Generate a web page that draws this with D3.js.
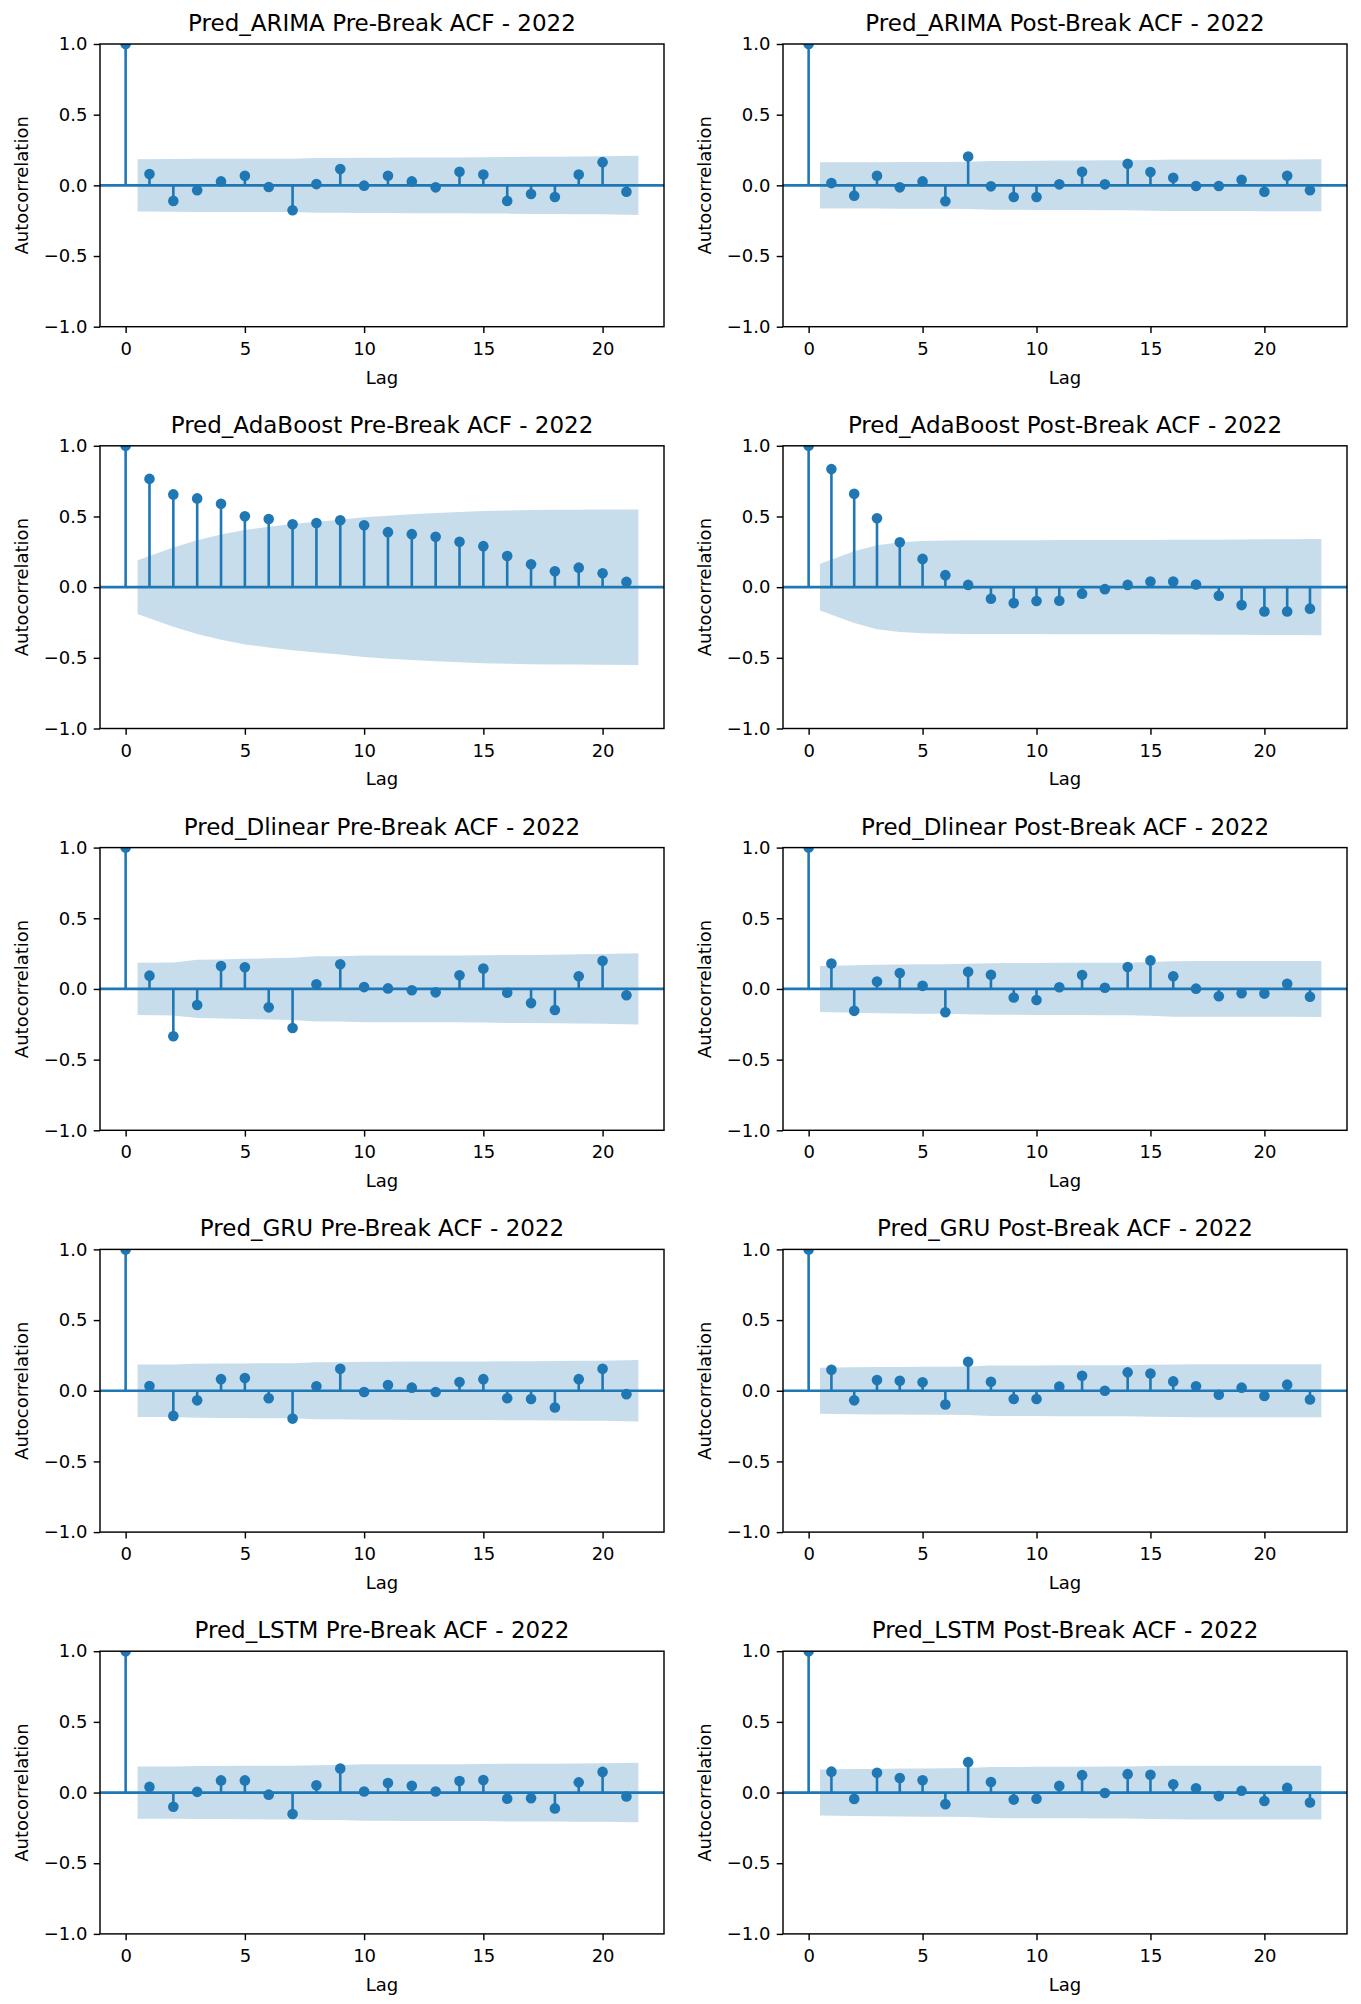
<!DOCTYPE html>
<html>
<head>
<meta charset="utf-8">
<script src="https://cdn.jsdelivr.net/npm/d3@7"></script>
<style>
  body { margin: 0; background: #fff; }
  text { font-family: "DejaVu Sans", sans-serif; fill: #000; }
</style>
</head>
<body>
<div id="chart"></div>
<script>
// ACF values (lag 0 .. N) and the upper confidence bound per lag (1 .. N)
const models = ["ARIMA", "AdaBoost", "Dlinear", "GRU", "LSTM"];
const year = "2022";
const xTickValues = [0, 5, 10, 15, 20];
const yTickValues = [-1, -0.5, 0, 0.5, 1];

const arimaPre = [1.0, 0.08, -0.11, -0.035, 0.028, 0.068, -0.012, -0.176, 0.009, 0.115, -0.002, 0.068, 0.028, -0.014, 0.096, 0.077, -0.11, -0.061, -0.082, 0.077, 0.164, -0.045];
const arimaPreConf = [0.185, 0.186, 0.188, 0.188, 0.188, 0.189, 0.189, 0.194, 0.194, 0.196, 0.196, 0.197, 0.197, 0.197, 0.199, 0.200, 0.202, 0.203, 0.204, 0.205, 0.210];
const arimaPost = [1.0, 0.016, -0.073, 0.068, -0.014, 0.028, -0.113, 0.204, -0.007, -0.082, -0.082, 0.007, 0.096, 0.007, 0.153, 0.094, 0.054, -0.005, -0.005, 0.04, -0.045, 0.068, -0.035];
const arimaPostConf = [0.163, 0.163, 0.164, 0.165, 0.165, 0.165, 0.167, 0.173, 0.173, 0.174, 0.175, 0.175, 0.177, 0.177, 0.180, 0.182, 0.182, 0.182, 0.182, 0.183, 0.183, 0.184];

const adaPre = [1.0, 0.766, 0.656, 0.628, 0.59, 0.501, 0.482, 0.445, 0.454, 0.473, 0.438, 0.389, 0.375, 0.356, 0.321, 0.29, 0.22, 0.162, 0.112, 0.138, 0.098, 0.037];
const adaPreConf = [0.19, 0.281, 0.332, 0.372, 0.405, 0.427, 0.446, 0.462, 0.477, 0.494, 0.506, 0.516, 0.525, 0.532, 0.538, 0.542, 0.545, 0.547, 0.548, 0.549, 0.55];
const adaPost = [1.0, 0.835, 0.66, 0.487, 0.318, 0.2, 0.085, 0.016, -0.082, -0.113, -0.098, -0.096, -0.046, -0.014, 0.016, 0.04, 0.04, 0.019, -0.061, -0.127, -0.172, -0.172, -0.152];
const adaPostConf = [0.165, 0.254, 0.297, 0.318, 0.327, 0.33, 0.331, 0.331, 0.331, 0.332, 0.333, 0.333, 0.334, 0.334, 0.334, 0.335, 0.335, 0.336, 0.337, 0.338, 0.339, 0.34];

const dlinPre = [1.0, 0.094, -0.335, -0.114, 0.162, 0.154, -0.13, -0.276, 0.033, 0.175, 0.013, 0.004, -0.009, -0.024, 0.097, 0.144, -0.027, -0.1, -0.149, 0.09, 0.2, -0.045];
const dlinPreConf = [0.185, 0.187, 0.206, 0.209, 0.213, 0.217, 0.22, 0.231, 0.231, 0.236, 0.236, 0.236, 0.236, 0.236, 0.238, 0.241, 0.241, 0.242, 0.245, 0.247, 0.252];
const dlinPost = [1.0, 0.18, -0.155, 0.053, 0.113, 0.022, -0.165, 0.122, 0.1, -0.06, -0.078, 0.012, 0.098, 0.008, 0.155, 0.202, 0.09, 0.002, -0.052, -0.03, -0.033, 0.037, -0.055];
const dlinPostConf = [0.163, 0.168, 0.172, 0.173, 0.175, 0.175, 0.179, 0.182, 0.183, 0.184, 0.185, 0.185, 0.186, 0.186, 0.19, 0.196, 0.197, 0.197, 0.197, 0.197, 0.197, 0.198];

const gruPre = [1.0, 0.033, -0.178, -0.068, 0.082, 0.09, -0.053, -0.197, 0.032, 0.155, -0.009, 0.04, 0.022, -0.009, 0.062, 0.082, -0.053, -0.058, -0.118, 0.082, 0.155, -0.024];
const gruPreConf = [0.185, 0.185, 0.191, 0.192, 0.193, 0.195, 0.195, 0.202, 0.202, 0.206, 0.206, 0.207, 0.207, 0.207, 0.207, 0.209, 0.209, 0.21, 0.212, 0.213, 0.217];
const gruPost = [1.0, 0.148, -0.068, 0.076, 0.07, 0.06, -0.097, 0.205, 0.064, -0.058, -0.058, 0.03, 0.106, 0.0, 0.13, 0.122, 0.066, 0.032, -0.028, 0.022, -0.037, 0.043, -0.062];
const gruPostConf = [0.163, 0.167, 0.168, 0.168, 0.169, 0.17, 0.171, 0.178, 0.179, 0.179, 0.18, 0.18, 0.181, 0.181, 0.184, 0.186, 0.187, 0.187, 0.187, 0.187, 0.187, 0.188];

const lstmPre = [1.0, 0.04, -0.1, 0.005, 0.086, 0.086, -0.015, -0.152, 0.052, 0.17, 0.007, 0.068, 0.048, 0.007, 0.082, 0.088, -0.043, -0.04, -0.112, 0.072, 0.146, -0.028];
const lstmPreConf = [0.185, 0.185, 0.187, 0.187, 0.189, 0.19, 0.19, 0.194, 0.195, 0.2, 0.2, 0.201, 0.201, 0.201, 0.202, 0.204, 0.204, 0.204, 0.206, 0.207, 0.211];
const lstmPost = [1.0, 0.148, -0.045, 0.14, 0.103, 0.087, -0.082, 0.215, 0.075, -0.05, -0.044, 0.047, 0.123, -0.003, 0.13, 0.126, 0.059, 0.03, -0.025, 0.013, -0.06, 0.033, -0.07];
const lstmPostConf = [0.163, 0.166, 0.167, 0.17, 0.171, 0.172, 0.173, 0.18, 0.181, 0.182, 0.182, 0.182, 0.184, 0.184, 0.187, 0.189, 0.19, 0.19, 0.19, 0.19, 0.19, 0.19];

const panels = [
    {model: "ARIMA", phase: "Pre", acf: arimaPre, conf: arimaPreConf},
    {model: "ARIMA", phase: "Post", acf: arimaPost, conf: arimaPostConf},
    {model: "AdaBoost", phase: "Pre", acf: adaPre, conf: adaPreConf},
    {model: "AdaBoost", phase: "Post", acf: adaPost, conf: adaPostConf},
    {model: "Dlinear", phase: "Pre", acf: dlinPre, conf: dlinPreConf},
    {model: "Dlinear", phase: "Post", acf: dlinPost, conf: dlinPostConf},
    {model: "GRU", phase: "Pre", acf: gruPre, conf: gruPreConf},
    {model: "GRU", phase: "Post", acf: gruPost, conf: gruPostConf},
    {model: "LSTM", phase: "Pre", acf: lstmPre, conf: lstmPreConf},
    {model: "LSTM", phase: "Post", acf: lstmPost, conf: lstmPostConf}
];

const blue = "#1f77b4";
const W = 1361, H = 2004;
const colLeft = [100, 783];
const rowTop0 = 44, rowStep = 401.8;
const axW = 564, axH = 282.7;

const svg = d3.select("#chart").append("svg")
    .attr("width", W)
    .attr("height", H);

svg.append("rect").attr("width", W).attr("height", H).attr("fill", "#fff");

// marks get clipped to the axes box, like matplotlib does
svg.append("defs").append("clipPath")
    .attr("id", "axclip")
    .append("rect")
    .attr("width", axW)
    .attr("height", axH);

panels.forEach(function (p, i) {
    let col = i % 2, row = Math.floor(i / 2);
    let left = colLeft[col], top = rowTop0 + row * rowStep;
    let n = p.acf.length - 1;
    let pad = 0.05 * (n + 0.5);

    let x = d3.scaleLinear().domain([-pad, n + 0.5 + pad]).range([0, axW]);
    let y = d3.scaleLinear().domain([-1, 1]).range([axH, 0]);

    let g = svg.append("g").attr("transform", `translate(${left},${top})`);
    let plot = g.append("g").attr("clip-path", "url(#axclip)");

    // confidence band, first/last lag shifted by half a step like statsmodels
    let bandPts = p.conf.map(function (c, k) {
        let lag = k + 1;
        if (k === 0) lag -= 0.5;
        if (k === p.conf.length - 1) lag += 0.5;
        return {lag: lag, c: c};
    });
    let area = d3.area()
        .x(d => x(d.lag))
        .y0(d => y(-d.c))
        .y1(d => y(d.c));
    plot.append("path")
        .datum(bandPts)
        .attr("d", area)
        .attr("fill", blue)
        .attr("fill-opacity", 0.25);

    let pts = p.acf.map((v, k) => ({lag: k, v: v}));

    plot.selectAll(".stem")
        .data(pts)
        .enter().append("line")
        .attr("class", "stem")
        .attr("x1", d => x(d.lag))
        .attr("x2", d => x(d.lag))
        .attr("y1", y(0))
        .attr("y2", d => y(d.v))
        .attr("stroke", blue)
        .attr("stroke-width", 2.6);

    plot.selectAll(".dot")
        .data(pts)
        .enter().append("circle")
        .attr("class", "dot")
        .attr("cx", d => x(d.lag))
        .attr("cy", d => y(d.v))
        .attr("r", 5.3)
        .attr("fill", blue);

    plot.append("line")
        .attr("x1", 0).attr("x2", axW)
        .attr("y1", y(0)).attr("y2", y(0))
        .attr("stroke", blue)
        .attr("stroke-width", 2.7);

    // axes
    let xAxis = g.append("g")
        .attr("transform", `translate(0,${axH})`)
        .call(d3.axisBottom(x).tickValues(xTickValues).tickSize(6.3).tickPadding(9).tickSizeOuter(0));
    let yAxis = g.append("g")
        .call(d3.axisLeft(y).tickValues(yTickValues).tickSize(6.3).tickPadding(6.3)
            .tickFormat(d3.format(".1f")).tickSizeOuter(0));
    [xAxis, yAxis].forEach(function (a) {
        a.select(".domain").remove();
        a.selectAll(".tick line").attr("stroke", "#000").attr("stroke-width", 1.44);
        a.selectAll(".tick text").attr("font-size", 18).attr("fill", "#000")
            .style("font-family", "'DejaVu Sans', sans-serif");
    });

    g.append("rect")
        .attr("width", axW).attr("height", axH)
        .attr("fill", "none")
        .attr("stroke", "#000")
        .attr("stroke-width", 1.44);

    g.append("text")
        .attr("x", axW / 2)
        .attr("y", -13)
        .attr("text-anchor", "middle")
        .attr("font-size", 23)
        .text(`Pred_${p.model} ${p.phase}-Break ACF - ${year}`);

    g.append("text")
        .attr("x", axW / 2)
        .attr("y", axH + 57)
        .attr("text-anchor", "middle")
        .attr("font-size", 18)
        .text("Lag");

    g.append("text")
        .attr("transform", `translate(-72,${axH / 2}) rotate(-90)`)
        .attr("text-anchor", "middle")
        .attr("font-size", 18)
        .text("Autocorrelation");
});
</script>
</body>
</html>
